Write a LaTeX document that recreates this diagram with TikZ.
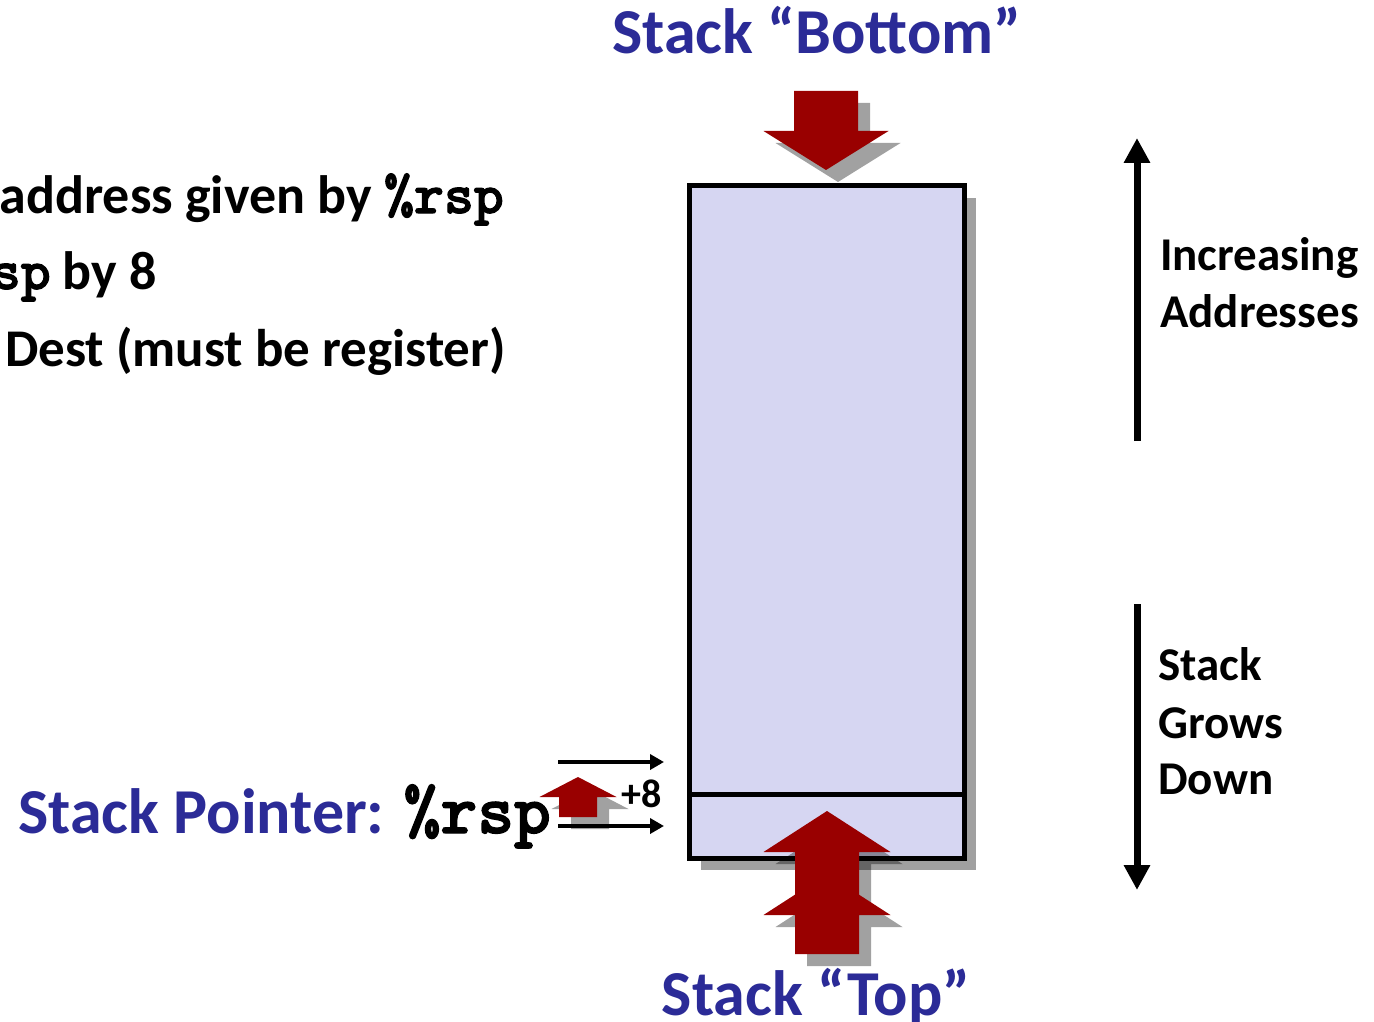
\documentclass[tikz,border=0pt]{standalone}
\usepackage{fontspec}
\setmainfont{Carlito}
\newfontfamily\regfont{lmmonolt10-bold.otf}[FakeBold=2]
\usetikzlibrary{arrows.meta,shadows}
\definecolor{slideblue}{RGB}{43,43,151}
\definecolor{arrowred}{RGB}{153,0,0}
\definecolor{stackfill}{RGB}{214,214,242}
\definecolor{shadowgray}{RGB}{160,160,160}
% block arrow outline: tip, head length, head half width, shaft half width, total length
\newcommand{\arrowpath}[5]{(#1) -- ++(#3,#2) -- ++({#4-#3},0) -- ++(0,{#5-#2}) -- ++({-2*#4},0) -- ++(0,{#2-#5}) -- ++({#4-#3},0) -- cycle}
\newcommand{\reg}[2]{{\regfont\fontsize{#1}{#1}\selectfont #2}}

\begin{document}
\begin{tikzpicture}[x=1pt,y=-1pt,
  stackbox/.style={draw=black,line width=5pt,fill=stackfill,inner sep=0,minimum width=275pt},
  blockred/.style={fill=arrowred},
  blockshadow/.style={fill=black,opacity=0.37},
  ptr/.style={line width=3.5pt,-{Triangle[length=14pt,width=15pt]}},
  axis/.style={line width=7pt,-{Triangle[length=25pt,width=25pt]}},
  title/.style={text=slideblue,font=\fontsize{64}{70}\selectfont\bfseries,inner sep=0,anchor=base},
  label/.style={font=\fontsize{47}{57}\selectfont\bfseries,inner sep=0,anchor=base west},
  side/.style={font=\fontsize{54}{60}\selectfont\bfseries,inner sep=0,anchor=base east}]
\path[use as bounding box,fill=white] (0,0) rectangle (1374,1022);
\clip (0,0) rectangle (1374,1022);

% the stack
\node (stack) [stackbox,minimum height=672pt,
  drop shadow={shadow xshift=12pt,shadow yshift=-12pt,fill=shadowgray,opacity=1}] at (826.5,522) {};
\node (slot) [stackbox,minimum height=64pt] at (826.5,826) {};

% stack bottom arrow
\coordinate (bottomtip) at (826,170);
\fill[blockshadow] \arrowpath{[shift={(12,12)}]bottomtip}{-39}{62.5}{32}{-79};
\fill[blockred] \arrowpath{bottomtip}{-39}{62.5}{32}{-79};

% stack top arrows
\coordinate (toptip) at (827,811);
\coordinate (toptipb) at (827,874);
\fill[blockshadow] \arrowpath{[shift={(12,12)}]toptipb}{41}{63.5}{32}{80}
  \arrowpath{[shift={(12,12)}]toptip}{41}{63.5}{32}{104};
\fill[blockred] \arrowpath{toptipb}{41}{63.5}{32}{80};
\fill[blockred] \arrowpath{toptip}{41}{63.5}{32}{104};

% pointer moves
\coordinate (oldsrc) at (558,826);
\coordinate (olddst) at (664,826);
\coordinate (newsrc) at (558,762);
\coordinate (newdst) at (664,762);
\draw[ptr] (newsrc) -- (newdst);
\draw[ptr] (oldsrc) -- (olddst);
\coordinate (movetip) at (578,777);
\fill[blockshadow] \arrowpath{[shift={(12,12)}]movetip}{20}{38.5}{19}{40};
\fill[blockred] \arrowpath{movetip}{20}{38.5}{19}{40};
\node (plus) [font=\fontsize{40}{44}\selectfont\bfseries,inner sep=0,anchor=base west] at (621,807) {+8};

% direction arrows
\coordinate (incfrom) at (1137,441);
\coordinate (incto) at (1137,138);
\coordinate (growfrom) at (1137,604);
\coordinate (growto) at (1137,890);
\draw[axis] (incfrom) -- (incto);
\draw[axis] (growfrom) -- (growto);

% labels
\node (bottom) [title] at (817,54) {Stack “Bottom”};
\node (top) [title] at (816,1015) {Stack “Top”};
\node (sp) [title,anchor=base west] at (18,833) {Stack Pointer: \textcolor{black}{\reg{70}{\%rsp}}};
\node (inc) [label] at (1160,270) {Increasing};
\node (addr) [label] at (1160,327) {Addresses};
\node (grow1) [label] at (1158,680) {Stack};
\node (grow2) [label] at (1158,738) {Grows};
\node (grow3) [label] at (1158,794) {Down};
\node (line1) [side] at (504,213) {address given by \reg{57}{\%rsp}};
\node (line2) [side] at (157,289) {\reg{57}{sp} by 8};
\node (line3) [side,font=\fontsize{53}{60}\selectfont\bfseries] at (506,366) {Dest (must be register)};
\end{tikzpicture}
\end{document}
